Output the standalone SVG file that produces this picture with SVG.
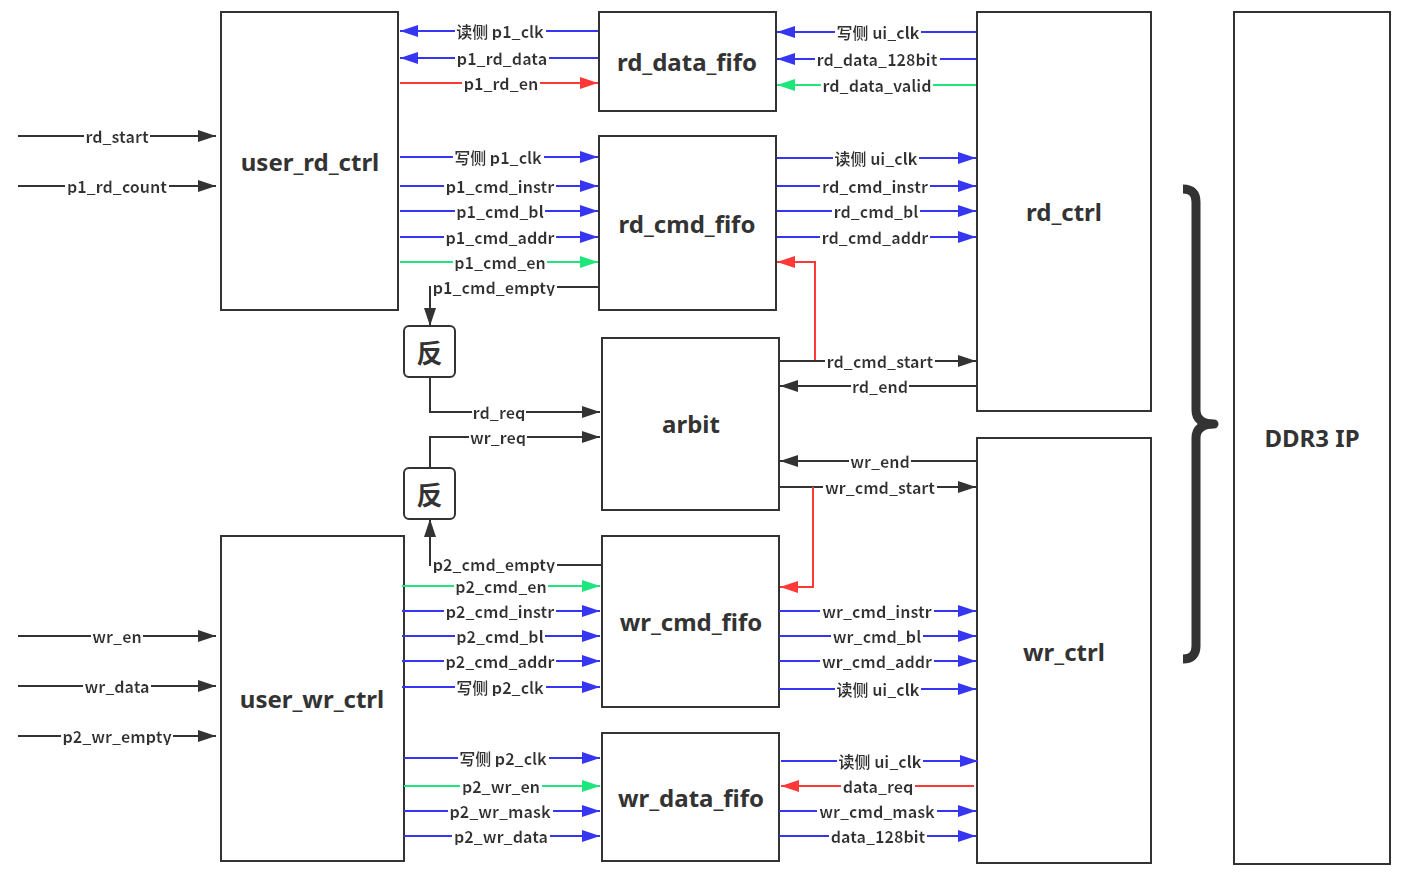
<svg xmlns="http://www.w3.org/2000/svg" width="1406" height="880" viewBox="0 0 1406 880">
<defs>
<style>
.box{fill:#fff;stroke:#333;stroke-width:2}
.title{font-family:"Noto Sans","Noto Sans CJK SC",sans-serif;font-weight:700;font-size:24px;fill:#333;text-anchor:middle;dominant-baseline:central}
.lbl{font-family:"Noto Sans CJK SC","Noto Sans",sans-serif;font-weight:700;font-size:16px;fill:#333;text-anchor:middle;dominant-baseline:central;filter:url(#bg)}
.k{fill:none;stroke:#333;stroke-width:2;marker-end:url(#ak)}
.b{fill:none;stroke:#3535f2;stroke-width:2;marker-end:url(#ab)}
.r{fill:none;stroke:#ff3838;stroke-width:2;marker-end:url(#ar)}
.g{fill:none;stroke:#1ee67c;stroke-width:2;marker-end:url(#ag)}
</style>
<filter id="bg" x="-0.012" y="0.15" width="1.024" height="0.72">
<feFlood flood-color="#fff" result="f"/>
<feMerge><feMergeNode in="f"/><feMergeNode in="SourceGraphic"/></feMerge>
</filter>
<marker id="ak" markerUnits="userSpaceOnUse" markerWidth="18" markerHeight="12" refX="18" refY="6" orient="auto"><path d="M0,0 L18,6 L0,12 z" fill="#333"/></marker>
<marker id="ab" markerUnits="userSpaceOnUse" markerWidth="18" markerHeight="12" refX="18" refY="6" orient="auto"><path d="M0,0 L18,6 L0,12 z" fill="#3535f2"/></marker>
<marker id="ar" markerUnits="userSpaceOnUse" markerWidth="18" markerHeight="12" refX="18" refY="6" orient="auto"><path d="M0,0 L18,6 L0,12 z" fill="#ff3838"/></marker>
<marker id="ag" markerUnits="userSpaceOnUse" markerWidth="18" markerHeight="12" refX="18" refY="6" orient="auto"><path d="M0,0 L18,6 L0,12 z" fill="#1ee67c"/></marker>
</defs>
<rect width="1406" height="880" fill="#fff"/>

<g id="user_rd_ctrl"><rect class="box" x="221" y="12" width="177" height="298"/><text class="title" x="310" y="161">user_rd_ctrl</text></g>
<g id="rd_data_fifo"><rect class="box" x="599" y="12" width="177" height="99"/><text class="title" x="687" y="61">rd_data_fifo</text></g>
<g id="rd_cmd_fifo"><rect class="box" x="599" y="136" width="177" height="174"/><text class="title" x="687" y="223">rd_cmd_fifo</text></g>
<g id="rd_ctrl"><rect class="box" x="977" y="12" width="174" height="399"/><text class="title" x="1064" y="211">rd_ctrl</text></g>
<g id="arbit"><rect class="box" x="602" y="338" width="177" height="172"/><text class="title" x="691" y="423">arbit</text></g>
<g id="inv_rd"><rect class="box" x="404" y="326" width="51" height="51" rx="5"/><text class="title" x="429.5" y="351" style="font-family:'Noto Sans CJK SC',sans-serif;font-size:26px">反</text></g>
<g id="inv_wr"><rect class="box" x="404" y="468" width="51" height="51" rx="5"/><text class="title" x="429.5" y="493" style="font-family:'Noto Sans CJK SC',sans-serif;font-size:26px">反</text></g>
<g id="user_wr_ctrl"><rect class="box" x="221" y="536" width="183" height="325"/><text class="title" x="312" y="698">user_wr_ctrl</text></g>
<g id="wr_cmd_fifo"><rect class="box" x="602" y="536" width="177" height="171"/><text class="title" x="691" y="621">wr_cmd_fifo</text></g>
<g id="wr_data_fifo"><rect class="box" x="602" y="733" width="177" height="128"/><text class="title" x="691" y="797">wr_data_fifo</text></g>
<g id="wr_ctrl"><rect class="box" x="977" y="438" width="174" height="425"/><text class="title" x="1064" y="651">wr_ctrl</text></g>
<g id="ddr3_ip"><rect class="box" x="1234" y="12" width="156" height="852"/><text class="title" x="1312" y="437">DDR3 IP</text></g>
<g id="brace"><path d="M1183,189 Q1196,189 1196,202 V410 Q1196,424 1214,424 Q1196,424 1196,438 V646 Q1196,659 1183,659" fill="none" stroke="#333" stroke-width="9" stroke-linejoin="round"/></g>

<g id="connectors">
<path class="k" d="M18,136 H216"/>
<path class="k" d="M18,186 H216"/>
<path class="k" d="M18,636 H216"/>
<path class="k" d="M18,686 H216"/>
<path class="k" d="M18,736 H216"/>

<path class="b" d="M598,31 H400"/>
<path class="b" d="M598,58 H400"/>
<path class="r" d="M400,83 H598"/>
<path class="b" d="M976,32 H777"/>
<path class="b" d="M976,59 H777"/>
<path class="g" d="M976,85 H777"/>

<path class="b" d="M400,157 H598"/>
<path class="b" d="M400,186 H598"/>
<path class="b" d="M400,211 H598"/>
<path class="b" d="M400,237 H598"/>
<path class="g" d="M400,262 H598"/>
<path class="k" d="M598,287 H430 V326"/>
<path class="b" d="M777,158 H976"/>
<path class="b" d="M777,186 H976"/>
<path class="b" d="M777,211 H976"/>
<path class="b" d="M777,237 H976"/>
<path class="r" d="M815,361 V262 H777"/>

<path class="k" d="M779,361 H976"/>
<path class="k" d="M976,386 H780"/>
<path class="k" d="M430,377 V412 H600"/>
<path class="k" d="M430,468 V437 H600"/>
<path class="k" d="M976,461 H780"/>
<path class="k" d="M779,487 H976"/>
<path class="r" d="M813,487 V587 H780"/>

<path class="k" d="M602,565 H430 V519"/>
<path class="g" d="M402,586 H600"/>
<path class="b" d="M402,611 H600"/>
<path class="b" d="M402,636 H600"/>
<path class="b" d="M402,661 H600"/>
<path class="b" d="M402,687 H600"/>
<path class="b" d="M779,611 H976"/>
<path class="b" d="M779,636 H976"/>
<path class="b" d="M779,661 H976"/>
<path class="b" d="M779,689 H976"/>

<path class="b" d="M404,758 H600"/>
<path class="g" d="M404,786 H600"/>
<path class="b" d="M404,811 H600"/>
<path class="b" d="M404,836 H600"/>
<path class="b" d="M781,761 H978"/>
<path class="r" d="M974,786 H781"/>
<path class="b" d="M779,811 H976"/>
<path class="b" d="M779,836 H976"/>

<text class="lbl" x="117" y="136">rd_start</text>
<text class="lbl" x="117" y="186">p1_rd_count</text>
<text class="lbl" x="117" y="636">wr_en</text>
<text class="lbl" x="117" y="686">wr_data</text>
<text class="lbl" x="117" y="736">p2_wr_empty</text>

<text class="lbl" x="500" y="31">读侧 p1_clk</text>
<text class="lbl" x="502" y="58">p1_rd_data</text>
<text class="lbl" x="501" y="83">p1_rd_en</text>
<text class="lbl" x="878" y="32">写侧 ui_clk</text>
<text class="lbl" x="877" y="59">rd_data_128bit</text>
<text class="lbl" x="877" y="85">rd_data_valid</text>

<text class="lbl" x="498" y="157">写侧 p1_clk</text>
<text class="lbl" x="500" y="186">p1_cmd_instr</text>
<text class="lbl" x="500" y="211">p1_cmd_bl</text>
<text class="lbl" x="500" y="237">p1_cmd_addr</text>
<text class="lbl" x="500" y="262">p1_cmd_en</text>
<text class="lbl" x="494" y="287">p1_cmd_empty</text>
<text class="lbl" x="876" y="158">读侧 ui_clk</text>
<text class="lbl" x="875" y="186">rd_cmd_instr</text>
<text class="lbl" x="876" y="211">rd_cmd_bl</text>
<text class="lbl" x="875" y="237">rd_cmd_addr</text>

<text class="lbl" x="880" y="361">rd_cmd_start</text>
<text class="lbl" x="880" y="386">rd_end</text>
<text class="lbl" x="499" y="412">rd_req</text>
<text class="lbl" x="498" y="437">wr_req</text>
<text class="lbl" x="880" y="461">wr_end</text>
<text class="lbl" x="880" y="487">wr_cmd_start</text>

<text class="lbl" x="494" y="564">p2_cmd_empty</text>
<text class="lbl" x="501" y="586">p2_cmd_en</text>
<text class="lbl" x="500" y="611">p2_cmd_instr</text>
<text class="lbl" x="500" y="636">p2_cmd_bl</text>
<text class="lbl" x="500" y="661">p2_cmd_addr</text>
<text class="lbl" x="500" y="687">写侧 p2_clk</text>
<text class="lbl" x="877" y="611">wr_cmd_instr</text>
<text class="lbl" x="877" y="636">wr_cmd_bl</text>
<text class="lbl" x="877" y="661">wr_cmd_addr</text>
<text class="lbl" x="878" y="689">读侧 ui_clk</text>

<text class="lbl" x="503" y="758">写侧 p2_clk</text>
<text class="lbl" x="501" y="786">p2_wr_en</text>
<text class="lbl" x="500" y="811">p2_wr_mask</text>
<text class="lbl" x="501" y="836">p2_wr_data</text>
<text class="lbl" x="880" y="761">读侧 ui_clk</text>
<text class="lbl" x="878" y="786">data_req</text>
<text class="lbl" x="877" y="811">wr_cmd_mask</text>
<text class="lbl" x="878" y="836">data_128bit</text>
</g>
</svg>
